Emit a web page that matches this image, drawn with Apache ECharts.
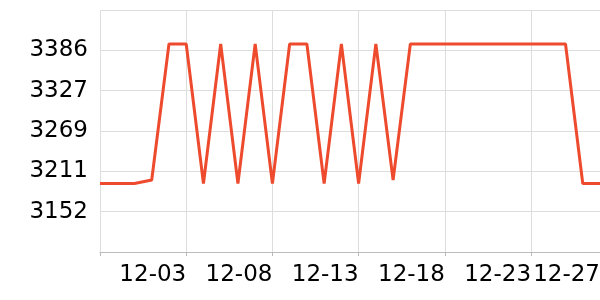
<!DOCTYPE html>
<html>
<head>
<meta charset="utf-8">
<script src="https://cdn.jsdelivr.net/npm/echarts@6/dist/echarts.min.js"></script>
<style>html,body{margin:0;padding:0;background:#fff;overflow:hidden}#c{width:600px;height:300px}</style>
</head>
<body>
<div id="c"></div>
<script>
const categories = ['11-28','11-29','11-30','12-01','12-02','12-03','12-04','12-05','12-06','12-07',
  '12-08','12-09','12-10','12-11','12-12','12-13','12-14','12-15','12-16','12-17',
  '12-18','12-19','12-20','12-21','12-22','12-23','12-24','12-25','12-26','12-27'];
const values = [3193,3193,3193,3198,3395,3395,3193,3395,3193,3395,
  3193,3395,3395,3193,3395,3193,3395,3198,3395,3395,
  3395,3395,3395,3395,3395,3395,3395,3395,3193,3193];
const labelIndices = [5,10,15,20,25,29];
const gridIndices = [0,5,10,15,20,25];

const chart = echarts.init(document.getElementById('c'), null, {renderer:'canvas'});
chart.setOption({
  animation: false,
  grid: {left: 100, right: 0, top: 10, bottom: 48, containLabel: false, outerBoundsMode: 'none'},
  xAxis: {
    type: 'category',
    data: categories,
    boundaryGap: false,
    axisLine: {show: true, lineStyle: {color: '#bbbbbb', width: 1}},
    axisTick: {show: true, length: 4, interval: (i) => gridIndices.includes(i), lineStyle: {color: '#bbbbbb'}},
    splitLine: {show: true, interval: (i) => gridIndices.includes(i), lineStyle: {color: '#dddddd', width: 1}},
    axisLabel: {
      interval: (i) => labelIndices.includes(i),
      align: 'right',
      margin: 12,
      color: '#000',
      fontSize: 23,
      fontFamily: 'DejaVu Sans',
      hideOverlap: false
    }
  },
  yAxis: {
    type: 'value',
    min: 3093.875,
    max: 3444.125,
    interval: 58.375,
    axisLine: {show: false},
    axisTick: {show: false},
    splitLine: {show: true, lineStyle: {color: '#dddddd', width: 1}},
    axisLabel: {
      showMinLabel: false,
      showMaxLabel: false,
      margin: 12,
      color: '#000',
      fontSize: 23,
      fontFamily: 'DejaVu Sans',
      formatter: (v) => String(Math.round(v))
    }
  },
  series: [{
    type: 'line',
    data: values,
    showSymbol: false,
    symbol: 'none',
    lineStyle: {color: '#EE4B2E', width: 3},
    itemStyle: {color: '#EE4B2E'}
  }]
});
</script>
</body>
</html>
